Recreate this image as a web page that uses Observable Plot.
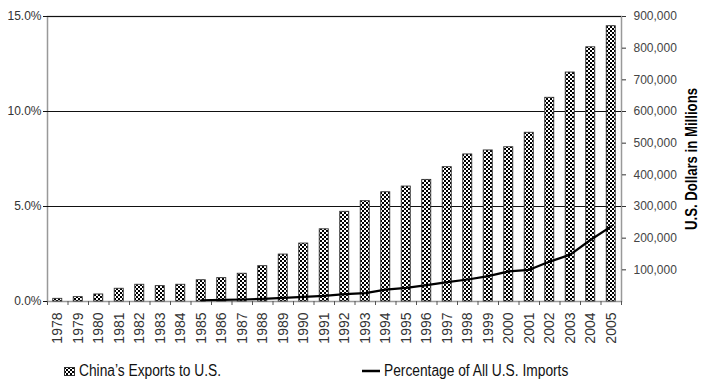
<!DOCTYPE html>
<html>
<head>
<meta charset="utf-8">
<script src="https://cdn.jsdelivr.net/npm/d3@7"></script>
<script src="https://cdn.jsdelivr.net/npm/@observablehq/plot@0.6"></script>
<style>
  html, body { margin: 0; padding: 0; background: #fff; }
  #wrap { position: relative; width: 704px; height: 390px; overflow: hidden; }
  #legend { position: absolute; left: 0; top: 361px; width: 704px; height: 20px;
            font: 16px "Liberation Sans", Arial, sans-serif; color: #111; }
  .item { position: absolute; top: 0; display: flex; align-items: center; height: 20px; }
  .item svg { margin-right: 4px; flex: none; }
  .item span { display: inline-block; transform: scaleX(0.86); transform-origin: 0 50%; white-space: nowrap; }
  g[aria-label="y-axis label"] text { font-weight: bold; font-size: 16px; fill: #000; }
</style>
</head>
<body>
<div id="wrap">
  <div id="chart"></div>
  <div id="legend">
    <div class="item" style="left:64px">
      <svg width="11" height="9"><defs><pattern id="checkerL" width="4" height="4" patternUnits="userSpaceOnUse"><rect width="4" height="4" fill="#fff"/><rect width="2" height="2" fill="#000"/><rect x="2" y="2" width="2" height="2" fill="#000"/></pattern></defs><rect x="0.5" y="0.5" width="10" height="8" fill="url(#checkerL)" stroke="#333" stroke-width="1"/></svg>
      <span>China’s Exports to U.S.</span>
    </div>
    <div class="item" style="left:362px">
      <svg width="18" height="4"><line x1="0" y1="2" x2="18" y2="2" stroke="#000" stroke-width="2.5"/></svg>
      <span>Percentage of All U.S. Imports</span>
    </div>
  </div>
</div>
<script>
// Categories
const years = [1978,1979,1980,1981,1982,1983,1984,1985,1986,1987,1988,1989,1990,1991,
               1992,1993,1994,1995,1996,1997,1998,1999,2000,2001,2002,2003,2004,2005];
// Bar heights as read on the left (percent) axis
const barPct = [0.14,0.23,0.37,0.67,0.88,0.81,0.88,1.12,1.23,1.46,1.86,2.47,3.05,3.80,
                4.72,5.28,5.75,6.05,6.40,7.07,7.74,7.95,8.12,8.88,10.72,12.05,13.38,14.49];
// Line values as read on the right axis (U.S. dollars in millions)
const lineYears = [1985,1986,1987,1988,1989,1990,1991,1992,1993,1994,1995,1996,1997,1998,
                   1999,2000,2001,2002,2003,2004,2005];
const lineMillions = [4000,5000,6300,8500,11500,14500,17500,23000,26500,37500,43000,51500,
                      61000,69500,80000,95000,100000,126000,148000,195000,237000];
// Tick labels
const leftTicks = [0, 5, 10, 15];
const rightTicks = [100000,200000,300000,400000,500000,600000,700000,800000,900000];

const RATIO = 900000 / 15; // right-axis millions per left-axis percent

const bars = years.map((year, i) => ({year, pct: barPct[i]}));
const line = lineYears.map((year, i) => ({year, v: lineMillions[i]}));
const boundaries = years.map(y => y - 0.5).concat([years[years.length - 1] + 0.5]);

const plot = Plot.plot({
  width: 704,
  height: 350,
  marginLeft: 47,
  marginRight: 83,
  marginTop: 16,
  marginBottom: 49,
  style: {fontFamily: '"Liberation Sans", Arial, sans-serif', fontSize: "12px", color: "#333", background: "#fff"},
  x: {type: "linear", domain: [years[0] - 0.5, years[years.length - 1] + 0.5]},
  y: {domain: [0, 15]},
  marks: [
    Plot.frame({stroke: "#999", strokeWidth: 1.5}),
    Plot.ruleY([5, 10, 15], {stroke: "#111", strokeWidth: 1.2}),
    Plot.rectY(bars, {
      x1: d => d.year - 0.22, x2: d => d.year + 0.22, y1: 0, y2: "pct",
      fill: "url(#checker)", stroke: "#333", strokeWidth: 0.9
    }),
    Plot.line(line, {x: "year", y: d => d.v / RATIO, stroke: "#000", strokeWidth: 2.2, curve: "linear"}),
    Plot.axisY({ticks: leftTicks, anchor: "left", tickSize: 4, tickPadding: 2, label: null,
                tickFormat: d => d.toFixed(1) + "%", stroke: "#111", fill: "#333"}),
    Plot.axisY({ticks: rightTicks.map(v => v / RATIO), anchor: "right", tickSize: 4, tickPadding: 8,
                tickFormat: d => d3.format(",")(Math.round(d * RATIO)), stroke: "#333", fill: "#444",
                label: "U.S. Dollars in Millions", labelAnchor: "center", labelArrow: "none", labelOffset: 75}),
    Plot.axisX({ticks: boundaries, anchor: "bottom", tickSize: 4, tickFormat: () => "", stroke: "#555", label: null}),
    // year labels under each bar
    Plot.text(years, {x: d => d, y: 0, text: d => String(d), rotate: -90, textAnchor: "end",
                      lineAnchor: "middle", dy: 11, fontSize: 14, fill: "#333"})
  ]
});

const defs = d3.select(plot).insert("defs", ":first-child");
defs.html('<pattern id="checker" width="4" height="4" patternUnits="userSpaceOnUse">' +
  '<rect width="4" height="4" fill="#fff"/><rect width="2" height="2" fill="#000"/>' +
  '<rect x="2" y="2" width="2" height="2" fill="#000"/></pattern>');

// condense the axis title like the reference's narrow bold face
d3.select(plot).selectAll('g[aria-label="y-axis label"] text')
  .attr("textLength", 142).attr("lengthAdjust", "spacingAndGlyphs");

document.getElementById("chart").appendChild(plot);
</script>
</body>
</html>
